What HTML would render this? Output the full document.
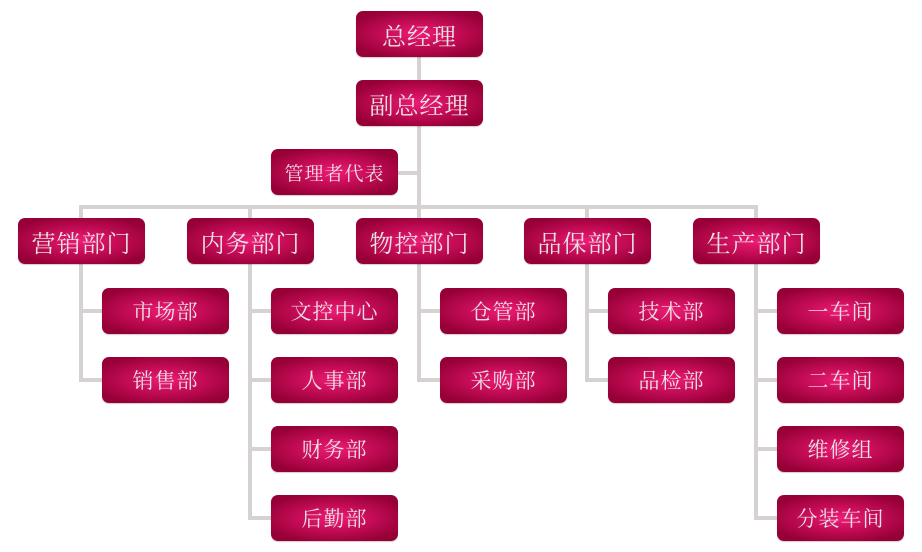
<!DOCTYPE html>
<html><head><meta charset="utf-8"><style>
body{margin:0;background:#fff;width:922px;height:552px;position:relative;overflow:hidden;font-family:"Liberation Serif","Noto Serif CJK SC",serif}
.b{position:absolute;width:127px;height:46px;border-radius:7px;background:radial-gradient(ellipse 60% 55% at 50% 50%,#ee1c76 0%,#c80d58 45%,#960037 100%);color:#e8e2e4;display:flex;align-items:center;justify-content:center;font-size:21px;letter-spacing:1px;box-shadow:0 1px 1px rgba(0,0,0,.2)}
.t{font-size:24px}
.l{position:absolute;background:#d6d2d2}
</style></head><body>
<div class="l" style="left:417px;top:57px;width:4px;height:161px"></div>
<div class="l" style="left:398px;top:171px;width:20px;height:4px"></div>
<div class="l" style="left:79px;top:205px;width:679px;height:4px"></div>
<div class="l" style="left:79px;top:205px;width:4px;height:13px"></div>
<div class="l" style="left:248px;top:205px;width:4px;height:13px"></div>
<div class="l" style="left:585px;top:205px;width:4px;height:13px"></div>
<div class="l" style="left:754px;top:205px;width:4px;height:13px"></div>

<div class="l" style="left:79px;top:264px;width:4px;height:118px"></div>
<div class="l" style="left:79px;top:309px;width:23px;height:4px"></div>
<div class="l" style="left:79px;top:378px;width:23px;height:4px"></div>

<div class="l" style="left:248px;top:264px;width:4px;height:256px"></div>
<div class="l" style="left:248px;top:309px;width:23px;height:4px"></div>
<div class="l" style="left:248px;top:378px;width:23px;height:4px"></div>
<div class="l" style="left:248px;top:447px;width:23px;height:4px"></div>
<div class="l" style="left:248px;top:516px;width:23px;height:4px"></div>

<div class="l" style="left:417px;top:264px;width:4px;height:118px"></div>
<div class="l" style="left:417px;top:309px;width:23px;height:4px"></div>
<div class="l" style="left:417px;top:378px;width:23px;height:4px"></div>

<div class="l" style="left:585px;top:264px;width:4px;height:118px"></div>
<div class="l" style="left:585px;top:309px;width:23px;height:4px"></div>
<div class="l" style="left:585px;top:378px;width:23px;height:4px"></div>

<div class="l" style="left:754px;top:264px;width:4px;height:256px"></div>
<div class="l" style="left:754px;top:309px;width:23px;height:4px"></div>
<div class="l" style="left:754px;top:378px;width:23px;height:4px"></div>
<div class="l" style="left:754px;top:447px;width:23px;height:4px"></div>
<div class="l" style="left:754px;top:516px;width:23px;height:4px"></div>

<div class="b t" style="left:356px;top:11px">总经理</div>
<div class="b t" style="left:356px;top:80px">副总经理</div>
<div class="b" style="left:271px;top:149px;font-size:19px">管理者代表</div>

<div class="b t" style="left:18px;top:218px">营销部门</div>
<div class="b t" style="left:187px;top:218px">内务部门</div>
<div class="b t" style="left:356px;top:218px">物控部门</div>
<div class="b t" style="left:524px;top:218px">品保部门</div>
<div class="b t" style="left:693px;top:218px">生产部门</div>

<div class="b" style="left:102px;top:288px">市场部</div>
<div class="b" style="left:102px;top:357px">销售部</div>

<div class="b" style="left:271px;top:288px">文控中心</div>
<div class="b" style="left:271px;top:357px">人事部</div>
<div class="b" style="left:271px;top:426px">财务部</div>
<div class="b" style="left:271px;top:495px">后勤部</div>

<div class="b" style="left:440px;top:288px">仓管部</div>
<div class="b" style="left:440px;top:357px">采购部</div>

<div class="b" style="left:608px;top:288px">技术部</div>
<div class="b" style="left:608px;top:357px">品检部</div>

<div class="b" style="left:777px;top:288px">一车间</div>
<div class="b" style="left:777px;top:357px">二车间</div>
<div class="b" style="left:777px;top:426px">维修组</div>
<div class="b" style="left:777px;top:495px">分装车间</div>
</body></html>
